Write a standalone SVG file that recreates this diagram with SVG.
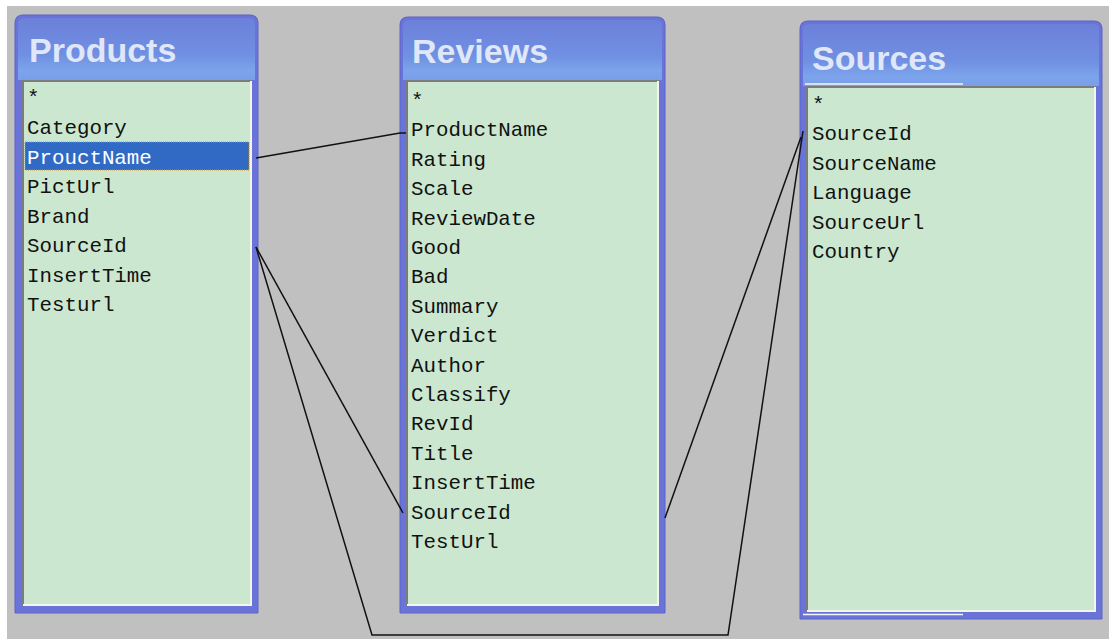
<svg xmlns="http://www.w3.org/2000/svg" width="1109" height="639" viewBox="0 0 1109 639">
<defs>
<linearGradient id="hdr" x1="0" y1="0" x2="0" y2="1">
<stop offset="0" stop-color="#6c80da"/>
<stop offset="0.6" stop-color="#7090e2"/>
<stop offset="0.85" stop-color="#7ca4ec"/>
<stop offset="1" stop-color="#7a9ee8"/>
</linearGradient>
<linearGradient id="side" x1="0" y1="0" x2="1" y2="0">
<stop offset="0" stop-color="#6f86de"/>
<stop offset="0.7" stop-color="#7290e2"/>
<stop offset="1" stop-color="#6a72d8"/>
</linearGradient>
</defs>
<style>
.frame{fill:#6a74d8;stroke:#5a62c8;stroke-width:1}
.list{fill:#cce7cf}
.shadow{stroke:#7c7c7c;stroke-width:2;fill:none}
.light{stroke:#f2f7ea;stroke-width:2;fill:none}
.title{font-family:"Liberation Sans","DejaVu Sans",sans-serif;font-weight:bold;font-size:34px;fill:#dfe7f8}
.f{font-family:"Liberation Mono","DejaVu Sans Mono",monospace;font-size:20.8px;fill:#111}
.sel{fill:#ffffff}
.conn{stroke:#111;stroke-width:1.5;fill:none}
</style>
<rect x="0" y="0" width="1109" height="639" fill="#ffffff"/>
<rect x="7" y="6" width="1102" height="633" fill="#c0c0c0"/>

<g id="products">
<path class="frame" d="M15,613 V23 Q15,15 23,15 H250 Q258,15 258,23 V613 Z"/>
<path d="M18,80 V24 Q18,18 24,18 H249 Q255,18 255,24 V80 Z" fill="url(#hdr)"/>
<rect class="list" x="22" y="80" width="230" height="526"/>
<path class="shadow" d="M23,606 V81 H252"/>
<path class="light" d="M23,605 H251 V81"/>
<text class="title" x="29" y="62">Products</text>
<text class="f" x="27" y="104">*</text>
<text class="f" x="27" y="134">Category</text>
<rect x="25" y="142" width="224" height="28" fill="#316ac5" stroke="#c89030" stroke-width="1" stroke-dasharray="1 1"/>
<text class="f sel" x="27" y="163.5">ProuctName</text>
<text class="f" x="27" y="193">PictUrl</text>
<text class="f" x="27" y="222.5">Brand</text>
<text class="f" x="27" y="252">SourceId</text>
<text class="f" x="27" y="281.5">InsertTime</text>
<text class="f" x="27" y="311">Testurl</text>
</g>

<g id="reviews">
<path class="frame" d="M400,613 V25 Q400,17 408,17 H657 Q665,17 665,25 V613 Z"/>
<path d="M403,80 V26 Q403,20 409,20 H656 Q662,20 662,26 V80 Z" fill="url(#hdr)"/>
<rect class="list" x="406" y="80" width="253" height="526"/>
<path class="shadow" d="M407,606 V81 H659"/>
<path class="light" d="M407,605 H658 V81"/>
<text class="title" x="412" y="63">Reviews</text>
<text class="f" x="411" y="107">*</text>
<text class="f" x="411" y="136.4">ProductName</text>
<text class="f" x="411" y="165.8">Rating</text>
<text class="f" x="411" y="195.2">Scale</text>
<text class="f" x="411" y="224.6">ReviewDate</text>
<text class="f" x="411" y="254">Good</text>
<text class="f" x="411" y="283.4">Bad</text>
<text class="f" x="411" y="312.8">Summary</text>
<text class="f" x="411" y="342.2">Verdict</text>
<text class="f" x="411" y="371.6">Author</text>
<text class="f" x="411" y="401">Classify</text>
<text class="f" x="411" y="430.4">RevId</text>
<text class="f" x="411" y="459.8">Title</text>
<text class="f" x="411" y="489.2">InsertTime</text>
<text class="f" x="411" y="518.6">SourceId</text>
<text class="f" x="411" y="548">TestUrl</text>
</g>

<g id="sources">
<path class="frame" d="M800,619 V29 Q800,21 808,21 H1094 Q1102,21 1102,29 V619 Z"/>
<path d="M803,86 V30 Q803,24 809,24 H1093 Q1099,24 1099,30 V86 Z" fill="url(#hdr)"/>
<rect class="list" x="806" y="86" width="290" height="526"/>
<path class="shadow" d="M807,612 V87 H1096"/>
<path class="light" d="M807,611 H1095 V87"/>
<line x1="805" y1="84" x2="963" y2="84" stroke="#f4f6fc" stroke-width="1.5"/>
<line x1="803" y1="614.5" x2="963" y2="614.5" stroke="#f4f6fc" stroke-width="1.5"/>
<text class="title" x="812" y="70">Sources</text>
<text class="f" x="812" y="111">*</text>
<text class="f" x="812" y="140.4">SourceId</text>
<text class="f" x="812" y="169.8">SourceName</text>
<text class="f" x="812" y="199.2">Language</text>
<text class="f" x="812" y="228.6">SourceUrl</text>
<text class="f" x="812" y="258">Country</text>
</g>

<g id="connectors">
<polyline class="conn" points="256,158 400,133 406,133"/>
<line class="conn" x1="256" y1="247" x2="403" y2="513"/>
<polyline class="conn" points="256,247 372,635 728,635 803,131"/>
<line class="conn" x1="665" y1="518" x2="801" y2="137"/>
</g>
</svg>
